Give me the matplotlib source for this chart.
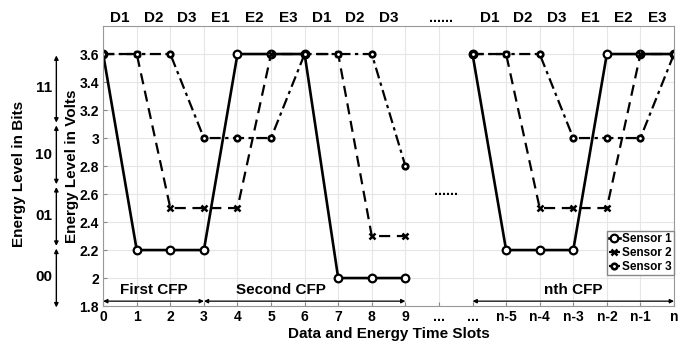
import numpy as np
import matplotlib.pyplot as plt
import matplotlib.transforms as mtransforms

plt.rcParams['font.family'] = ['Liberation Sans', 'DejaVu Sans']
plt.rcParams['font.weight'] = 'bold'

# slot positions: 0..9, two gap slots, then n-5..n
x_first = [0, 1, 2, 3, 4, 5, 6, 7, 8, 9]
x_nth = [11, 12, 13, 14, 15, 16, 17]
tick_labels = ['0', '1', '2', '3', '4', '5', '6', '7', '8', '9', '...', '...',
               'n-5', 'n-4', 'n-3', 'n-2', 'n-1', 'n']

s1_first = [3.6, 2.2, 2.2, 2.2, 3.6, 3.6, 3.6, 2.0, 2.0, 2.0]
s2_first = [3.6, 3.6, 2.5, 2.5, 2.5, 3.6, 3.6, 3.6, 2.3, 2.3]
s3_first = [3.6, 3.6, 3.6, 3.0, 3.0, 3.0, 3.6, 3.6, 3.6, 2.8]
s1_nth = [3.6, 2.2, 2.2, 2.2, 3.6, 3.6, 3.6]
s2_nth = [3.6, 3.6, 2.5, 2.5, 2.5, 3.6, 3.6]
s3_nth = [3.6, 3.6, 3.6, 3.0, 3.0, 3.0, 3.6]

slot_names = ['D1', 'D2', 'D3', 'E1', 'E2', 'E3', 'D1', 'D2', 'D3']
slot_names_nth = ['D1', 'D2', 'D3', 'E1', 'E2', 'E3']

# energy level bits: label, lower volt, upper volt
bit_labels = ['11', '10', '01', '00']
bit_top = [3.59, 3.09, 2.65, 2.21]
bit_bottom = [3.11, 2.67, 2.23, 1.79]
bit_label_y = [3.36, 2.88, 2.44, 2.01]

cfp_names = ['First CFP', 'Second CFP', 'nth CFP']
cfp_start = [0, 3, 11]
cfp_end = [3, 9, 17]
cfp_text_x = [1.5, 5.3, 14.0]

fig = plt.figure(figsize=(6.97, 3.47), dpi=100)
ax = fig.add_axes([0.148, 0.118, 0.819, 0.807])

s1_style = dict(color='black', lw=1.9, ls='-', marker='o', ms=5.5, mfc='white', mew=1.6)
s2_style = dict(color='black', lw=1.6, ls=(0, (5, 3)), marker='x', ms=4.5, mew=1.8)
s3_style = dict(color='black', lw=1.6, ls=(0, (5, 2, 1.5, 2)), marker='o', ms=4, mfc='white', mew=1.9)

ax.plot(x_first, s1_first, label='Sensor 1', **s1_style)
ax.plot(x_first, s2_first, label='Sensor 2', **s2_style)
ax.plot(x_first, s3_first, label='Sensor 3', **s3_style)
ax.plot(x_nth, s1_nth, **s1_style)
ax.plot(x_nth, s2_nth, **s2_style)
ax.plot(x_nth, s3_nth, **s3_style)

ax.set_xlim(0, 17)
ax.set_ylim(1.8, 3.8)
ax.set_xticks(range(len(tick_labels)))
ax.set_xticklabels(tick_labels)
yt = np.round(np.arange(1.8, 3.61, 0.2), 1)
ax.set_yticks(yt)
ax.set_yticklabels(['%g' % v for v in yt])
ax.tick_params(direction='in', length=3, labelsize=10, color='#888888', pad=3)
ax.grid(True, color='#e6e6e6', lw=0.8)
for sp in ax.spines.values():
    sp.set_color('#999999')
    sp.set_linewidth(0.8)

ax.set_xlabel('Data and Energy Time Slots', fontsize=11, fontweight='bold', labelpad=2)
ax.set_ylabel('Energy Level in Volts', fontsize=11, fontweight='bold', labelpad=0)

# top slot names
trans_top = mtransforms.blended_transform_factory(ax.transData, ax.transAxes)
for i, name in enumerate(slot_names):
    ax.text(i + 0.5, 1.005, name, transform=trans_top, ha='center', va='bottom',
            fontsize=11, fontweight='bold')
for i, name in enumerate(slot_names_nth):
    ax.text(11.5 + i, 1.005, name, transform=trans_top, ha='center', va='bottom',
            fontsize=11, fontweight='bold')
ax.text(10.05, 1.005, '......', transform=trans_top, ha='center', va='bottom',
        fontsize=10, fontweight='bold')
ax.text(10.2, 2.62, '......', ha='center', va='center', fontsize=10, fontweight='bold')

# CFP arrows
for name, a, b, tx in zip(cfp_names, cfp_start, cfp_end, cfp_text_x):
    ax.annotate('', xy=(a, 1.835), xytext=(b, 1.835),
                arrowprops=dict(arrowstyle='<|-|>', color='black', lw=0.9,
                                mutation_scale=6, shrinkA=0, shrinkB=0))
    ax.text(tx, 1.865, name, ha='center', va='bottom', fontsize=11, fontweight='bold')

# bits axis on the left
trans_left = mtransforms.blended_transform_factory(ax.transAxes, ax.transData)
for lab, top, bot, ly in zip(bit_labels, bit_top, bit_bottom, bit_label_y):
    ax.annotate('', xy=(-0.082, top), xytext=(-0.082, bot), xycoords=trans_left,
                textcoords=trans_left, annotation_clip=False,
                arrowprops=dict(arrowstyle='<|-|>', color='black', lw=1.0,
                                mutation_scale=6, shrinkA=0, shrinkB=0))
    ax.text(-0.089, ly, lab, transform=trans_left, ha='right', va='center',
            fontsize=11, fontweight='bold')
fig.text(0.027, 0.5, 'Energy Level in Bits', rotation=90, ha='center', va='center',
         fontsize=11, fontweight='bold')

leg = ax.legend(loc='lower right', bbox_to_anchor=(1.0, 0.11), fontsize=8.5,
                handlelength=0.9, handletextpad=0.2, borderpad=0.2, labelspacing=0.15,
                borderaxespad=0.0, fancybox=False, framealpha=1.0, edgecolor='#888888')
for t in leg.get_texts():
    t.set_fontweight('bold')

fig.savefig('out.png', dpi=100)
